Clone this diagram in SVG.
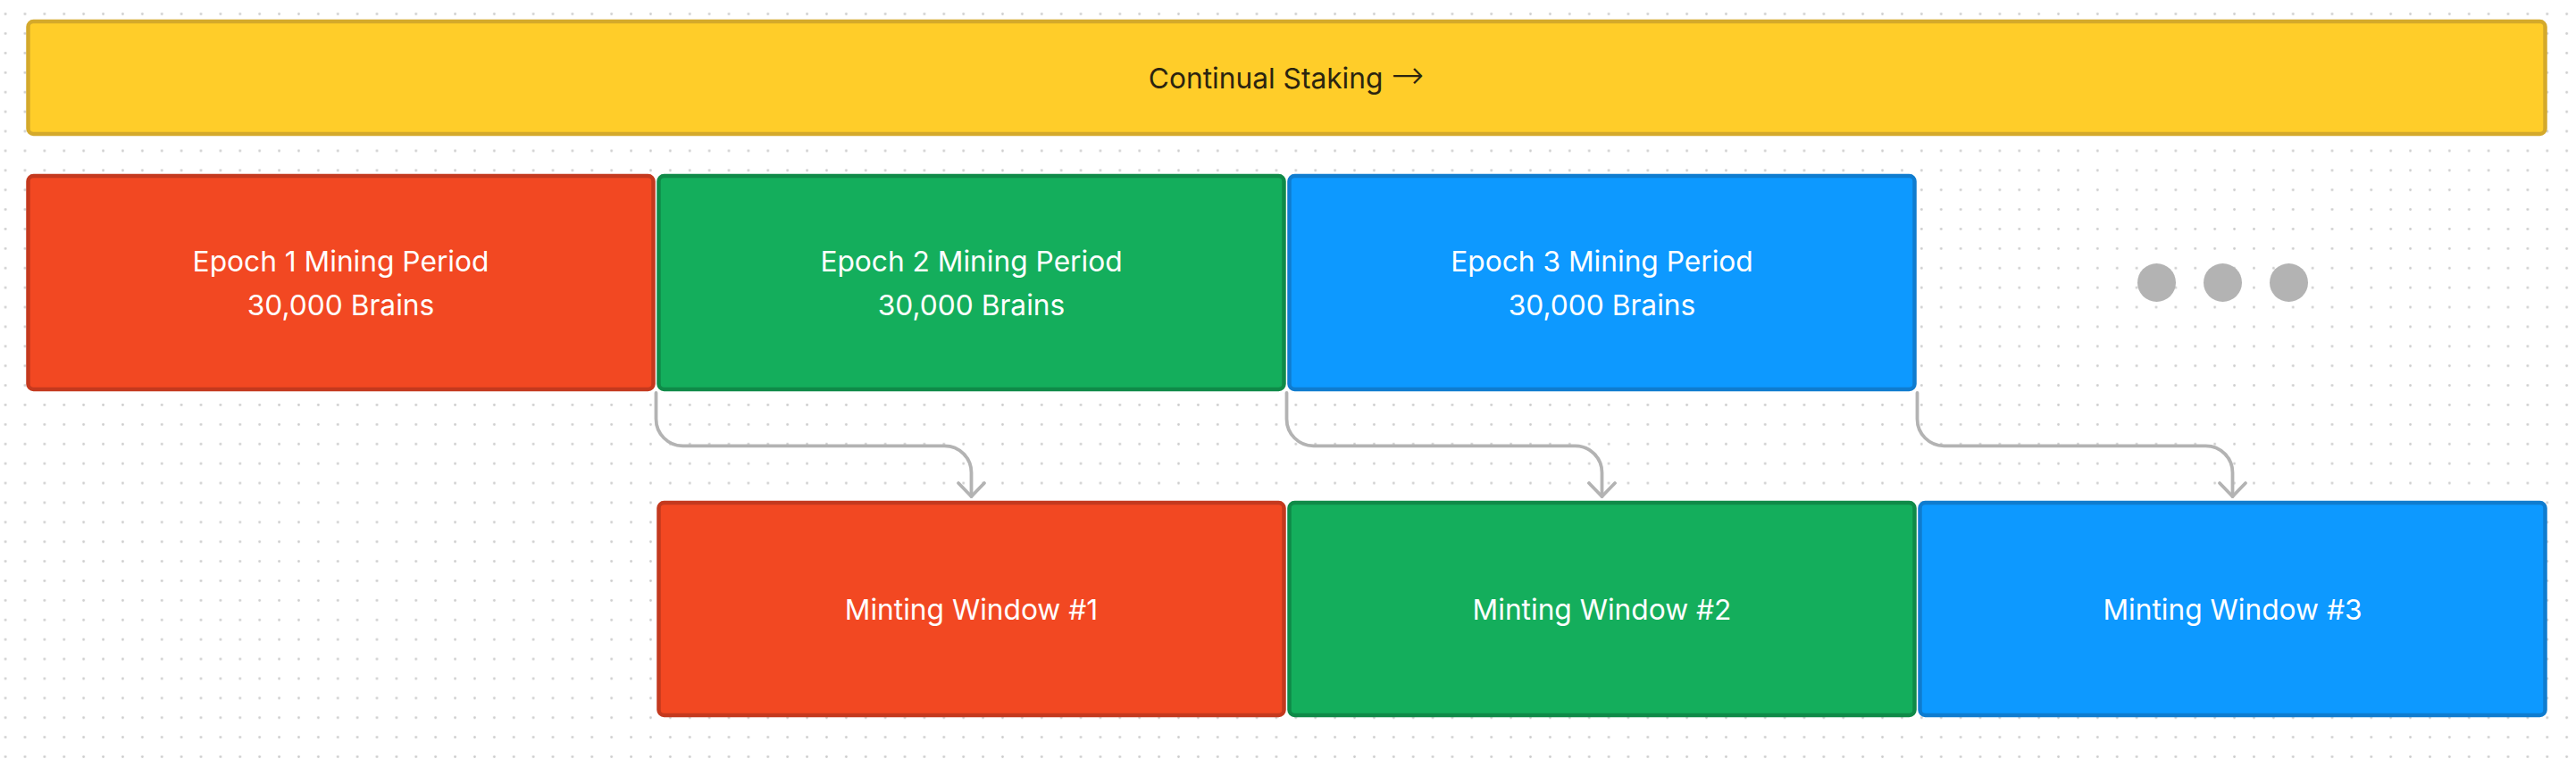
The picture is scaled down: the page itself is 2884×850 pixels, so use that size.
<svg xmlns="http://www.w3.org/2000/svg" width="2884" height="850" viewBox="0 0 2884 850">
  <defs>
    <pattern id="grid" patternUnits="userSpaceOnUse" x="4.6" y="14.2" width="21.89" height="21.89">
      <circle cx="1.5" cy="1.5" r="1.4" fill="#cdcdcd"/>
    </pattern>
    <marker id="arrow" markerUnits="userSpaceOnUse" markerWidth="40" markerHeight="40" refX="0" refY="0" viewBox="-20 -20 40 40" orient="auto" overflow="visible">
      <path d="M -15 -14.5 L 0 0 L -15 14.5" fill="none" stroke="#b3b3b3" stroke-width="3.8" stroke-linecap="round" stroke-linejoin="round"/>
    </marker>
  </defs>
  <style>
    .box { stroke-width: 4.5; }
    .red { fill: #F24822; stroke: #C4391E; }
    .green { fill: #14AE5C; stroke: #0F8A48; }
    .blue { fill: #0D99FF; stroke: #0F7CCF; }
    .yellow { fill: #FFCD29; stroke: #D4A92B; }
    .lbl { font-family: Inter, "Liberation Sans", sans-serif; font-size: 31.7px; fill: #ffffff; text-anchor: middle; }
    .dark { fill: #2B2410; }
    .arr { font-family: "DejaVu Sans", sans-serif; font-size: 44px; font-weight: 200; }
    .conn { fill: none; stroke: #b3b3b3; stroke-width: 3.8; stroke-linecap: round; }
    .dot { fill: #b3b3b3; }
  </style>
  <rect x="0" y="0" width="2884" height="850" fill="#ffffff"/>
  <rect x="0" y="0" width="2884" height="850" fill="url(#grid)"/>

  <g id="continual-staking">
    <rect class="box yellow" x="31.5" y="24" width="2818" height="126" rx="6"/>
    <text class="lbl dark" x="1440" y="99">Continual Staking <tspan class="arr">→</tspan></text>
  </g>

  <g id="epoch1">
    <rect class="box red" x="31.5" y="197" width="700" height="239" rx="6"/>
    <text class="lbl" x="381.5" y="304">Epoch 1 Mining Period</text>
    <text class="lbl" x="381.5" y="353">30,000 Brains</text>
  </g>
  <g id="epoch2">
    <rect class="box green" x="737.5" y="197" width="700" height="239" rx="6"/>
    <text class="lbl" x="1087.5" y="304">Epoch 2 Mining Period</text>
    <text class="lbl" x="1087.5" y="353">30,000 Brains</text>
  </g>
  <g id="epoch3">
    <rect class="box blue" x="1443.5" y="197" width="700" height="239" rx="6"/>
    <text class="lbl" x="1793.5" y="304">Epoch 3 Mining Period</text>
    <text class="lbl" x="1793.5" y="353">30,000 Brains</text>
  </g>
  <g id="ellipsis">
    <circle class="dot" cx="2414.5" cy="316.5" r="21.5"/>
    <circle class="dot" cx="2488.5" cy="316.5" r="21.5"/>
    <circle class="dot" cx="2562.5" cy="316.5" r="21.5"/>
  </g>

  <g id="mint1">
    <rect class="box red" x="737.5" y="563" width="700" height="238" rx="6"/>
    <text class="lbl" x="1087.5" y="694">Minting Window #1</text>
  </g>
  <g id="mint2">
    <rect class="box green" x="1443.5" y="563" width="700" height="238" rx="6"/>
    <text class="lbl" x="1793.5" y="694">Minting Window #2</text>
  </g>
  <g id="mint3">
    <rect class="box blue" x="2149.5" y="563" width="700" height="238" rx="6"/>
    <text class="lbl" x="2499.5" y="694">Minting Window #3</text>
  </g>

  <g id="connectors">
    <path class="conn" marker-end="url(#arrow)" d="M 734.5 440 V 469.3 C 734.5 485.9 747.9 499.3 764.5 499.3 H 1057.5 C 1074.1 499.3 1087.5 512.7 1087.5 529.3 V 556"/>
    <path class="conn" marker-end="url(#arrow)" d="M 1440.5 440 V 469.3 C 1440.5 485.9 1453.9 499.3 1470.5 499.3 H 1763.5 C 1780.1 499.3 1793.5 512.7 1793.5 529.3 V 556"/>
    <path class="conn" marker-end="url(#arrow)" d="M 2146.5 440 V 469.3 C 2146.5 485.9 2159.9 499.3 2176.5 499.3 H 2469.5 C 2486.1 499.3 2499.5 512.7 2499.5 529.3 V 556"/>
  </g>
</svg>
